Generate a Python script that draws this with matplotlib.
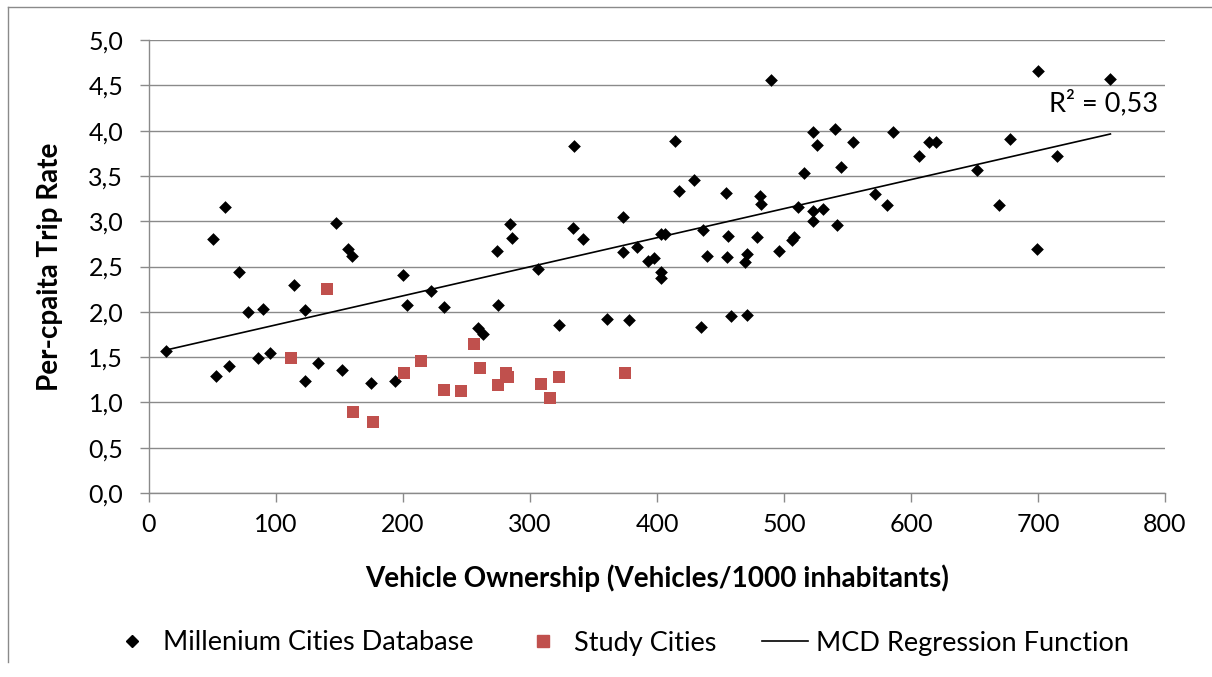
import matplotlib

matplotlib.use("Agg")
import matplotlib.pyplot as plt
from matplotlib.lines import Line2D
from matplotlib.ticker import FuncFormatter, MultipleLocator

plt.rcParams["font.family"] = ["Lato", "DejaVu Sans"]

# Millennium Cities Database: vehicles per 1000 inhabitants vs. trips per capita
mcd_ownership = [
    13, 50, 60, 53, 63, 71, 78, 90, 86, 95, 114, 123, 123, 133, 147, 157, 160, 152,
    175, 194, 200, 203, 222, 232, 259, 263, 274, 275, 284, 286, 306, 323, 335, 334,
    342, 361, 373, 373, 378, 384, 393, 398, 403, 406, 403, 403, 414, 417, 429, 436,
    439, 435, 454, 456, 455, 458, 469, 471, 471, 479, 481, 482, 490, 496, 506, 508,
    511, 516, 523, 526, 523, 523, 531, 540, 545, 542, 554, 572, 581, 586, 606, 614,
    620, 652, 669, 678, 700, 699, 715, 757,
]
mcd_trip_rate = [
    1.57, 2.80, 3.16, 1.29, 1.40, 2.44, 2.00, 2.03, 1.49, 1.55, 2.30, 2.02, 1.24, 1.43,
    2.98, 2.69, 2.62, 1.36, 1.21, 1.24, 2.41, 2.07, 2.23, 2.05, 1.82, 1.75, 2.67, 2.07,
    2.97, 2.82, 2.47, 1.85, 3.83, 2.92, 2.80, 1.92, 3.05, 2.66, 1.91, 2.72, 2.56, 2.59,
    2.86, 2.86, 2.44, 2.37, 3.88, 3.33, 3.45, 2.90, 2.62, 1.83, 3.31, 2.84, 2.61, 1.95,
    2.55, 2.64, 1.97, 2.83, 3.28, 3.19, 4.56, 2.67, 2.79, 2.83, 3.16, 3.53, 3.99, 3.84,
    3.11, 3.00, 3.14, 4.02, 3.60, 2.96, 3.87, 3.30, 3.18, 3.99, 3.72, 3.87, 3.87, 3.57,
    3.18, 3.91, 4.66, 2.69, 3.72, 4.57,
]

# study cities
study_ownership = [112, 140, 161, 176, 201, 214, 232, 246, 256, 261, 275, 281, 283, 309, 316, 323, 375]
study_trip_rate = [1.49, 2.25, 0.89, 0.78, 1.32, 1.46, 1.14, 1.13, 1.65, 1.38, 1.19, 1.32, 1.28, 1.20, 1.05, 1.28, 1.33]

# linear trend fitted on the MCD data
reg_slope = 0.003207
reg_intercept = 1.535
r_squared = 0.53

GRID = "#8a8a8a"
RED = "#c0504d"
TICK_FS = 18
TEXT_FS = 19.5
LABEL_FS = 20

fig = plt.figure(figsize=(12.12, 6.77), dpi=100)
ax = fig.add_axes([149 / 1212, 184 / 677, 1016 / 1212, 453 / 677])

ax.scatter(mcd_ownership, mcd_trip_rate, marker="D", s=42, color="black", linewidths=0, zorder=3)
ax.scatter(study_ownership, study_trip_rate, marker="s", s=74, color=RED, linewidths=0, zorder=3)

x0, x1 = min(mcd_ownership), max(mcd_ownership)
ax.plot([x0, x1], [reg_intercept + reg_slope * x0, reg_intercept + reg_slope * x1],
        color="black", linewidth=1.2, zorder=2)
ax.text(709, 4.30, f"R² = {r_squared:.2f}".replace(".", ","), fontsize=TEXT_FS, va="center", ha="left")

ax.set_xlim(0, 800)
ax.set_ylim(0, 5)
ax.xaxis.set_major_locator(MultipleLocator(100))
ax.yaxis.set_major_locator(MultipleLocator(0.5))
ax.yaxis.set_major_formatter(FuncFormatter(lambda v, _: f"{v:.1f}".replace(".", ",")))

ax.grid(axis="y", color=GRID, linewidth=1.0)
ax.set_axisbelow(True)
for side in ("top", "right"):
    ax.spines[side].set_visible(False)
for side in ("left", "bottom"):
    ax.spines[side].set_color(GRID)
    ax.spines[side].set_linewidth(1.0)
ax.tick_params(axis="both", colors=GRID, labelcolor="black", labelsize=TICK_FS, length=6.5, width=1.0)
ax.tick_params(axis="y", pad=12)
ax.tick_params(axis="x", pad=8)

ax.set_xlabel("Vehicle Ownership (Vehicles/1000 inhabitants)", fontsize=LABEL_FS, fontweight="bold", labelpad=20)
ax.set_ylabel("Per-cpaita Trip Rate", fontsize=LABEL_FS, fontweight="bold", labelpad=18)

handles = [
    Line2D([], [], marker="D", linestyle="none", color="black", markersize=6.5),
    Line2D([], [], marker="s", linestyle="none", color=RED, markersize=8.6),
    Line2D([], [], color="black", linewidth=1.2),
]
fig.legend(handles, ["Millenium Cities Database", "Study Cities", "MCD Regression Function"],
           loc="center", bbox_to_anchor=(619 / 1212, 1 - 643 / 677), ncol=3, frameon=False,
           fontsize=TEXT_FS, handlelength=1.7, handletextpad=0.3, columnspacing=1.7)

# outer chart frame (top and left edges)
fig.add_artist(Line2D([8 / 1212, 8 / 1212], [1 - 7 / 677, 1 - 662 / 677], transform=fig.transFigure,
                      color=GRID, linewidth=1.0))
fig.add_artist(Line2D([8 / 1212, 1.0], [1 - 7 / 677, 1 - 7 / 677], transform=fig.transFigure,
                      color=GRID, linewidth=1.0))

fig.savefig("out.png", dpi=100)
